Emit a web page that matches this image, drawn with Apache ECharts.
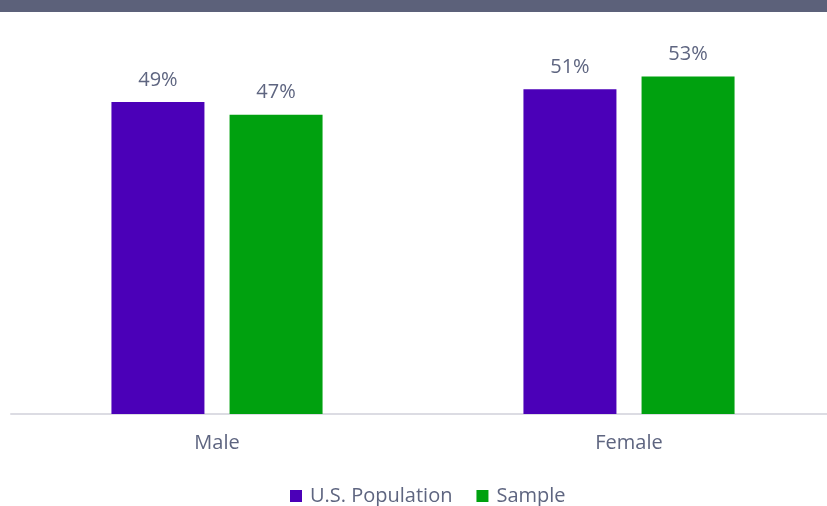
<!DOCTYPE html>
<html>
<head>
<meta charset="utf-8">
<script src="https://cdn.jsdelivr.net/npm/echarts@6/dist/echarts.min.js"></script>
<style>
  html, body { margin: 0; padding: 0; background: #fff; }
  #chart { width: 827px; height: 506px; }
</style>
</head>
<body>
<div id="chart"></div>
<script>
  const categories = ['Male', 'Female']
  const usPopulation = [49, 51]
  const sample = [47, 53]
  const seriesNames = ['U.S. Population', 'Sample']

  const textColor = '#5e6580'
  const font = '"Open Sans", sans-serif'

  const chart = echarts.init(document.getElementById('chart'))

  const labelStyle = {
    show: true,
    position: 'top',
    distance: 12,
    formatter: '{c}%',
    color: textColor,
    fontSize: 20,
    fontFamily: font
  }

  chart.setOption({
    animation: false,
    graphic: [{
      type: 'rect',
      shape: { x: 0, y: 0, width: 827, height: 12 },
      style: { fill: '#5c617a' }
    }],
    grid: {
      left: 11,
      width: 824,
      top: 32,
      bottom: 92,
      outerBoundsMode: 'none'
    },
    legend: {
      data: seriesNames,
      top: 481,
      left: 285,
      itemWidth: 12,
      itemHeight: 12,
      itemGap: 24,
      icon: 'rect',
      textStyle: { color: textColor, fontSize: 20, fontFamily: font, padding: [0, 0, 0, 3] }
    },
    xAxis: {
      type: 'category',
      data: categories,
      axisTick: { show: false },
      axisLine: { lineStyle: { color: '#dcdce3', width: 2 } },
      axisLabel: { color: textColor, fontSize: 20, fontFamily: font, margin: 19 }
    },
    yAxis: {
      type: 'value',
      min: 0,
      max: 60,
      show: false,
      splitLine: { show: false }
    },
    series: [
      {
        name: seriesNames[0],
        type: 'bar',
        data: usPopulation,
        barWidth: 93,
        barGap: '27%',
        itemStyle: { color: '#4b00b8' },
        label: labelStyle
      },
      {
        name: seriesNames[1],
        type: 'bar',
        data: sample,
        barWidth: 93,
        itemStyle: { color: '#00a10f' },
        label: labelStyle
      }
    ]
  })
</script>
</body>
</html>
